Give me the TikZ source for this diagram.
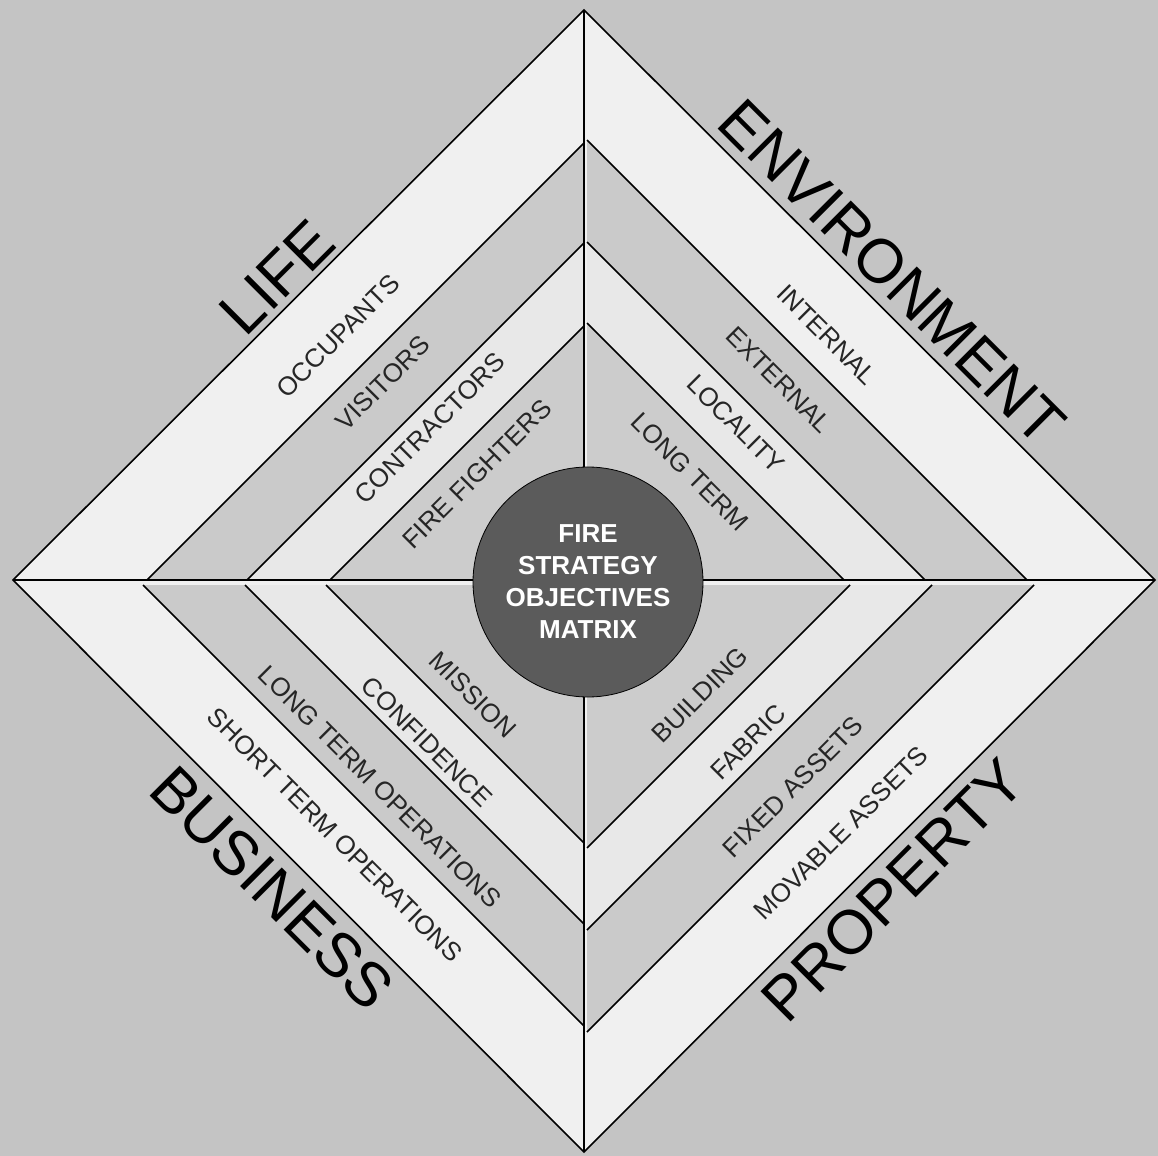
\documentclass[tikz,border=0pt]{standalone}
\usepackage{fontspec}
\setmainfont{Liberation Sans}

\definecolor{bgGray}{HTML}{C4C4C4}
\definecolor{bandLight}{HTML}{F0F0F0}
\definecolor{bandMid}{HTML}{CACACA}
\definecolor{bandPale}{HTML}{E8E8E8}
\definecolor{bandDark}{HTML}{CCCCCC}
\definecolor{hubGray}{HTML}{5B5B5B}

\tikzset{
	ring/.style={font=\fontsize{13}{15}\selectfont, text=black!85, inner sep=0pt},
	title/.style={font=\fontsize{31}{34}\selectfont, inner sep=0pt},
	edge/.style={line width=0.8pt}
}

\begin{document}
\begin{tikzpicture}[x=0.5pt, y=-0.5pt]

	\fill[bgGray, use as bounding box] (0,0) rectangle (1158,1156);

	\def\cx{584} % centre du losange
	\def\cy{580}

	\coordinate (top) at (584,10);
	\coordinate (left) at (13,580);
	\coordinate (right) at (1155,580);
	\coordinate (bottom) at (584,1152);

	\filldraw[fill=bandLight, edge] (top) -- (right) -- (bottom) -- (left) -- cycle;

	% quadrant : signes, decalage, rayons des bandes
	\foreach \sx/\sy/\dx/\dy/\ra/\rb/\rc in {-1/-1/0/0/437/337/254, 1/-1/3/0/440/338/257, -1/1/0/5/441/339/258, 1/1/3/5/447/345/263} {
		\fill[bandMid] (\cx+\dx,\cy+\dy) -- (\cx+\dx+\sx*\ra,\cy+\dy) -- (\cx+\dx,\cy+\dy+\sy*\ra) -- cycle;
		\draw[edge] (\cx+\dx+\sx*\ra,\cy+\dy) -- (\cx+\dx,\cy+\dy+\sy*\ra);
		\fill[bandPale] (\cx+\dx,\cy+\dy) -- (\cx+\dx+\sx*\rb,\cy+\dy) -- (\cx+\dx,\cy+\dy+\sy*\rb) -- cycle;
		\draw[edge] (\cx+\dx+\sx*\rb,\cy+\dy) -- (\cx+\dx,\cy+\dy+\sy*\rb);
		\fill[bandDark] (\cx+\dx,\cy+\dy) -- (\cx+\dx+\sx*\rc,\cy+\dy) -- (\cx+\dx,\cy+\dy+\sy*\rc) -- cycle;
		\draw[edge] (\cx+\dx+\sx*\rc,\cy+\dy) -- (\cx+\dx,\cy+\dy+\sy*\rc);
	}

	\draw[line width=1pt] (top) -- (bottom);
	\draw[line width=1pt] (left) -- (right);

	\node[circle, draw=black, fill=hubGray, minimum size=115pt, inner sep=0pt, align=center, text=white,
		font=\fontsize{13}{16}\selectfont\bfseries] (hub) at (588,582) {FIRE\\STRATEGY\\OBJECTIVES\\MATRIX};

	% grands titres
	\node[title, rotate=45] (life) at (277,277) {LIFE};
	\node[title, rotate=-45] (environment) at (892,272) {ENVIRONMENT};
	\node[title, rotate=-45] (business) at (272,888) {BUSINESS};
	\node[title, rotate=45] (property) at (893,890) {PROPERTY};

	% bandes
	\node[ring, rotate=45] (occupants) at (338,336) {OCCUPANTS};
	\node[ring, rotate=45] (visitors) at (383,383) {VISITORS};
	\node[ring, rotate=45] (contractors) at (430,428) {CONTRACTORS};
	\node[ring, rotate=45] (firefighters) at (477,474) {FIRE FIGHTERS};

	\node[ring, rotate=-45] (internal) at (827,335) {INTERNAL};
	\node[ring, rotate=-45] (external) at (779,380) {EXTERNAL};
	\node[ring, rotate=-45] (locality) at (736,424) {LOCALITY};
	\node[ring, rotate=-45] (longterm) at (690,472) {LONG TERM};

	\node[ring, rotate=-45] (shortops) at (335,835) {SHORT TERM OPERATIONS};
	\node[ring, rotate=-45] (longops) at (380,787) {LONG TERM OPERATIONS};
	\node[ring, rotate=-45] (confidence) at (427,742) {CONFIDENCE};
	\node[ring, rotate=-45] (mission) at (473,695) {MISSION};

	\node[ring, rotate=45] (building) at (700,695) {BUILDING};
	\node[ring, rotate=45] (fabric) at (748,742) {FABRIC};
	\node[ring, rotate=45] (fixedassets) at (793,787) {FIXED ASSETS};
	\node[ring, rotate=45] (movableassets) at (841,833) {MOVABLE ASSETS};

\end{tikzpicture}
\end{document}
